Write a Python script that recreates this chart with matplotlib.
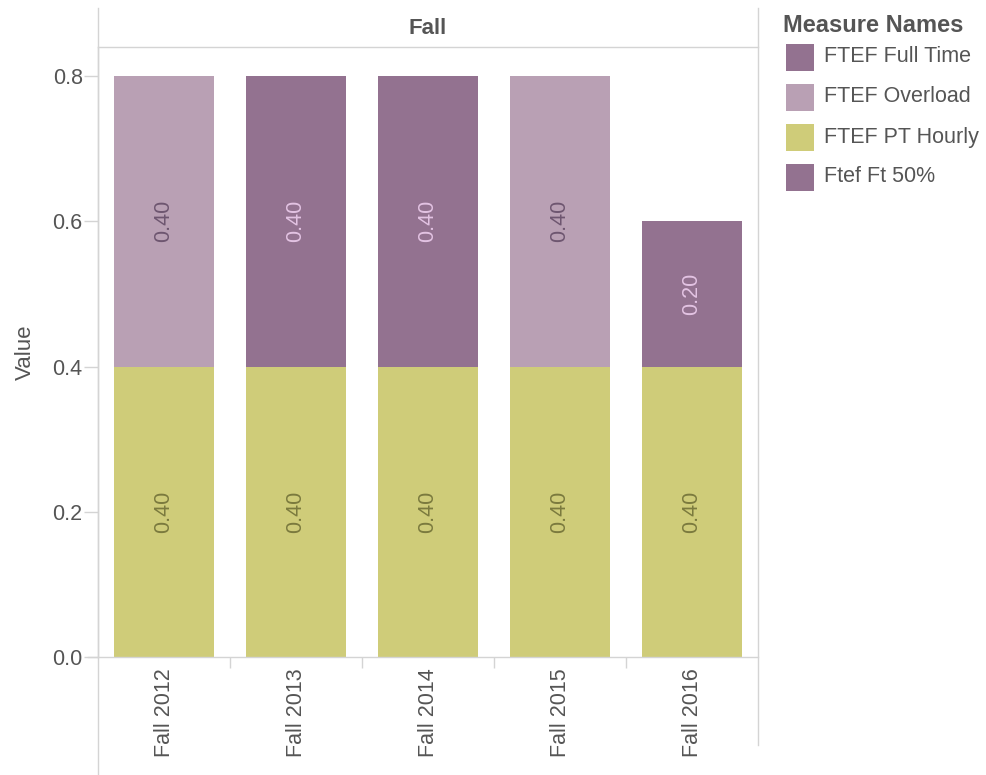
import matplotlib
matplotlib.use("Agg")
import matplotlib.pyplot as plt
from matplotlib.patches import Rectangle
from matplotlib.lines import Line2D
import numpy as np

plt.rcParams['font.family'] = ['Liberation Sans', 'DejaVu Sans']

categories = ["Fall 2012", "Fall 2013", "Fall 2014", "Fall 2015", "Fall 2016"]
series_names = ["FTEF Full Time", "FTEF Overload", "FTEF PT Hourly", "Ftef Ft 50%"]
pt_hourly = [0.40, 0.40, 0.40, 0.40, 0.40]
overload = [0.40, 0.0, 0.0, 0.40, 0.0]
full_time = [0.0, 0.40, 0.40, 0.0, 0.20]
ft_50 = [0.0, 0.0, 0.0, 0.0, 0.0]
y_ticks = [0.0, 0.2, 0.4, 0.6, 0.8]

colors = {"FTEF Full Time": "#937290", "FTEF Overload": "#b9a0b4",
          "FTEF PT Hourly": "#cfcc79", "Ftef Ft 50%": "#937290"}
label_colors = {"FTEF Full Time": "#e3c3e3", "FTEF Overload": "#6e5670",
                "FTEF PT Hourly": "#7b7a3e", "Ftef Ft 50%": "#e3c3e3"}

W, H = 986, 775
fig = plt.figure(figsize=(W / 100, H / 100), dpi=100)
L, R, T, B = 98, 758, 47, 657
ax = fig.add_axes([L / W, 1 - B / H, (R - L) / W, (B - T) / H])

grey = "#d4d4d4"
text_c = "#555555"
fs = 15.5
x = np.arange(len(categories))
bw = 0.757
stack = [("FTEF PT Hourly", pt_hourly), ("FTEF Overload", overload),
         ("FTEF Full Time", full_time), ("Ftef Ft 50%", ft_50)]
bottom = np.zeros(len(categories))
for name, vals in stack:
    vals = np.array(vals)
    ax.bar(x, vals, bw, bottom=bottom, color=colors[name], linewidth=0)
    for xi, v, b in zip(x, vals, bottom):
        if v > 0:
            ax.text(xi, b + v / 2, f"{v:.2f}", rotation=90, ha="center", va="center",
                    fontsize=fs, color=label_colors[name])
    bottom = bottom + vals

ax.set_xlim(-0.5, len(categories) - 0.5)
ax.set_ylim(0, 0.84)
ax.set_yticks(y_ticks)
ax.set_yticklabels([f"{t:.1f}" for t in y_ticks], fontsize=fs, color=text_c)
ax.set_xticks(x)
ax.set_xticklabels(categories, rotation=90, fontsize=fs, color=text_c, va="top")
ax.set_xticks(np.arange(len(categories) - 1) + 0.5, minor=True)
ax.tick_params(axis="x", which="major", length=0, pad=8)
ax.tick_params(axis="x", which="minor", length=8, color=grey, width=1)
ax.tick_params(axis="y", length=10, color=grey, width=1, pad=1)
for s in ["top", "right"]:
    ax.spines[s].set_visible(False)
for s in ["left", "bottom"]:
    ax.spines[s].set_color(grey)
    ax.spines[s].set_linewidth(1)
ax.set_ylabel("Value", fontsize=16, color=text_c)
ax.yaxis.set_label_coords((36 - L) / (R - L), 0.5)

def fl(x0, y0, x1, y1):
    fig.add_artist(Line2D([x0 / W, x1 / W], [1 - y0 / H, 1 - y1 / H], color=grey, lw=1,
                          transform=fig.transFigure))

fl(L, 8, L, 775)
fl(R, 8, R, 745)
fl(L, T, R, T)
fl(88, B, L, B)
fig.text(428 / W, 1 - 28 / H, "Fall", ha="center", va="center",
         fontsize=16, fontweight="bold", color=text_c)

# legend
fig.text(783 / W, 1 - 25 / H, "Measure Names", ha="left", va="center",
         fontsize=17, fontweight="bold", color=text_c)
for i, name in enumerate(series_names):
    yc = 57 + 40 * i
    fig.add_artist(Rectangle((786 / W, 1 - (yc + 13.5) / H), 28 / W, 27 / H,
                             color=colors[name], transform=fig.transFigure, linewidth=0))
    fig.text(824 / W, 1 - yc / H, name, ha="left", va="center", fontsize=15.5, color=text_c)

fig.savefig("out.png", dpi=100)
